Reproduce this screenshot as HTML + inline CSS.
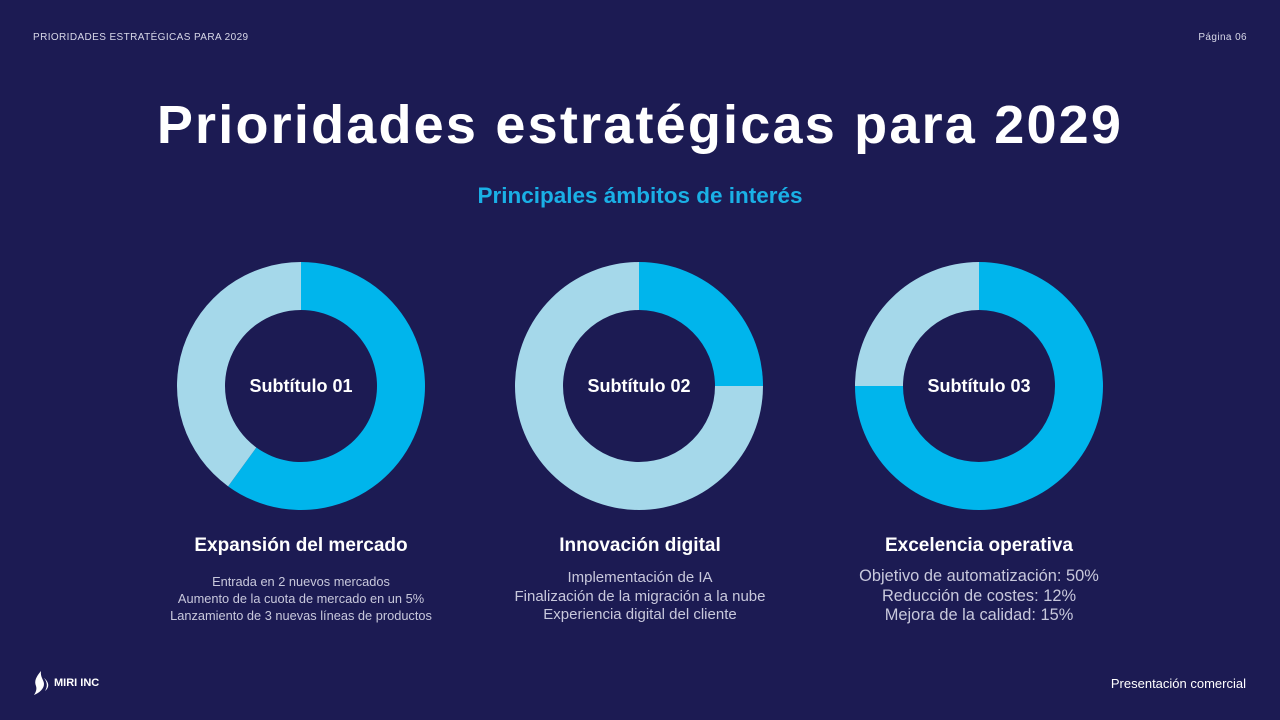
<!DOCTYPE html>
<html><head><meta charset="utf-8">
<style>
body{margin:0;width:1280px;height:720px;background:#1c1b53;font-family:"Liberation Sans",sans-serif;color:#fff;position:relative;overflow:hidden}
.abs{position:absolute}
.hdr{top:32px;font-size:10px;letter-spacing:.4px;color:#d8d8e8}
h1{position:absolute;top:94px;left:0;width:1280px;text-align:center;margin:0;font-size:54px;font-weight:bold;font-family:"Liberation Sans",sans-serif;letter-spacing:2.2px}
.sub{top:183px;width:1280px;text-align:center;color:#1ab0e6;font-weight:bold;font-size:22.5px}
.col{width:340px;text-align:center}
.ct{font-weight:bold;font-size:19px;top:535px}
.cd{font-size:12.8px;color:#c8c8dc;line-height:17px;top:573px}
.cd3{font-size:16.4px;line-height:19.5px;top:567px}
</style></head><body>
<div class="abs hdr" style="left:33px">PRIORIDADES ESTRATÉGICAS PARA 2029</div>
<div class="abs hdr" style="right:33px">Página 06</div>
<h1>Prioridades estratégicas para 2029</h1>
<div class="abs sub">Principales ámbitos de interés</div>
<svg class="abs" style="left:0;top:0" width="1280" height="720" id="chart"></svg>
<div class="abs col ct" style="left:131px">Expansión del mercado</div>
<div class="abs col ct" style="left:470px">Innovación digital</div>
<div class="abs col ct" style="left:809px">Excelencia operativa</div>
<div class="abs col cd" style="left:131px">Entrada en 2 nuevos mercados<br>Aumento de la cuota de mercado en un 5%<br>Lanzamiento de 3 nuevas líneas de productos</div>
<div class="abs col cd" style="left:470px;font-size:15px;line-height:18.5px;top:569px">Implementación de IA<br>Finalización de la migración a la nube<br>Experiencia digital del cliente</div>
<div class="abs col cd cd3" style="left:809px">Objetivo de automatización: 50%<br>Reducción de costes: 12%<br>Mejora de la calidad: 15%</div>
<div class="abs" style="left:32px;top:670px">
<svg width="18" height="26" viewBox="0 0 18 26"><path d="M9 1C4 7 2 11 4 16c1 3 0 6-2 9 5-2 10-6 10-11 0-4-4-7-3-13z" fill="#fff"/><path d="M12 8c3 4 4 8 1 13 4-3 5-8-1-13z" fill="#fff"/></svg>
<span style="position:absolute;left:22px;top:7px;font-size:11px;font-weight:bold;white-space:nowrap">MIRI INC</span></div>
<div class="abs" style="right:34px;top:676px;font-size:13px">Presentación comercial</div>
<script>
const categories=["Subtítulo 01","Subtítulo 02","Subtítulo 03"];
const values=[60,25,75];
const centersX=[301,639,979];
const svg=document.getElementById('chart');
const NS='http://www.w3.org/2000/svg';
const cy=386,R=124,r=76;
function pt(cx,rad,p){const a=p/100*2*Math.PI;return [cx+rad*Math.sin(a),cy-rad*Math.cos(a)];}
function arc(cx,p0,p1){const l=(p1-p0)>50?1:0;const[a,b]=pt(cx,R,p0),[c,d]=pt(cx,R,p1),[e,f]=pt(cx,r,p1),[g,h]=pt(cx,r,p0);
return `M${a} ${b}A${R} ${R} 0 ${l} 1 ${c} ${d}L${e} ${f}A${r} ${r} 0 ${l} 0 ${g} ${h}Z`;}
categories.forEach((c,i)=>{
 const cx=centersX[i],v=values[i];
 const p1=document.createElementNS(NS,'path');p1.setAttribute('d',arc(cx,0,v));p1.setAttribute('fill','#00b5ec');
 
 svg.appendChild(p1);
 const p2=document.createElementNS(NS,'path');p2.setAttribute('d',arc(cx,v,100));p2.setAttribute('fill','#a5d8ea');
 
 svg.appendChild(p2);
 const t=document.createElementNS(NS,'text');t.setAttribute('x',cx);t.setAttribute('y',cy+6);t.setAttribute('text-anchor','middle');
 t.setAttribute('fill','#fff');t.setAttribute('font-size','18');t.setAttribute('font-weight','bold');t.setAttribute('font-family','Liberation Sans, sans-serif');
 t.textContent=c;
 
 svg.appendChild(t);
});
</script>
</body></html>
